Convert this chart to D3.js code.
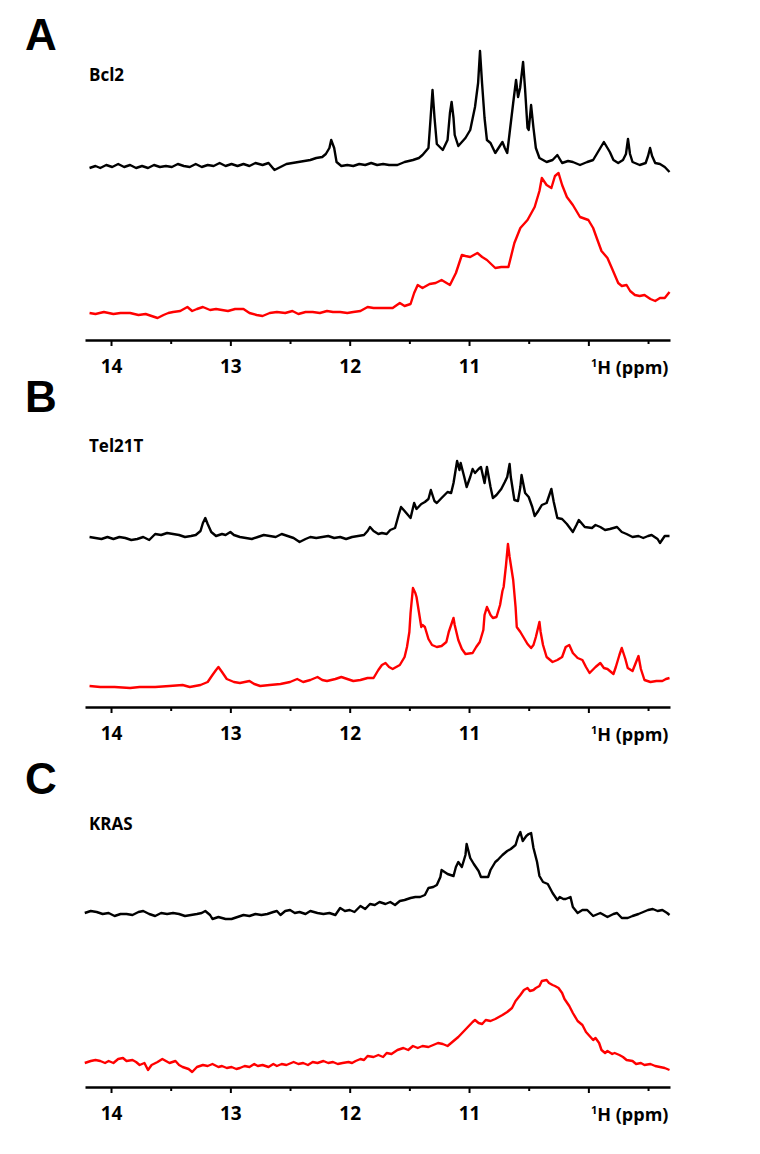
<!DOCTYPE html>
<html lang="en">
<head>
<meta charset="UTF-8">
<title>Imino 1H NMR spectra</title>
<script src="https://d3js.org/d3.v7.min.js"></script>
<style>
    body { margin: 0; background: #fff; }
    svg { display: block; }
    .axis path, .axis line { stroke: #000; }
    .axis text { font-family: "Open Sans", sans-serif; font-weight: bold; font-size: 19px; fill: #000; }
</style>
</head>
<body>
<svg id="chart" width="760" height="1154"></svg>
<script>
// panel labels
const panelLetters = ["A", "B", "C"];
const sampleNames = ["Bcl2", "Tel21T", "KRAS"];

// x axis (ppm, reversed)
const ppmRange = [14.218, 9.316];
const majorTicks = [14, 13, 12, 11, 10];
const labelledTicks = [14, 13, 12, 11];
const minorTicks = [13.5, 12.5, 11.5, 10.5, 9.5];

// spectra: [ppm, intensity (a.u.)]
const bcl2Upper = [[14.18,0],[14.13,2],[14.09,0],[14.04,3],[13.99,1],[13.94,4],[13.89,1],[13.84,3],[13.79,0],[13.74,2],
  [13.69,0],[13.64,3],[13.59,1],[13.54,2],[13.49,1],[13.44,4],[13.39,2],[13.34,1],[13.29,4],[13.24,1],[13.19,3],[13.14,2],
  [13.09,5],[13.04,2],[12.99,4],[12.94,2],[12.89,4],[12.84,2],[12.79,5],[12.73,3],[12.68,5],[12.63,-2],[12.58,1],[12.53,4],
  [12.48,5],[12.43,6],[12.38,7],[12.33,8],[12.28,10],[12.23,11],[12.20,14],[12.17,20],[12.155,28],[12.13,20],[12.11,6],
  [12.07,2],[12.02,3],[11.97,2],[11.92,4],[11.87,3],[11.82,5],[11.77,3],[11.72,4],[11.67,3],[11.60,3],[11.54,6],[11.47,8],
  [11.42,10],[11.39,13],[11.34,20],[11.322,50],[11.306,78],[11.289,50],[11.27,24],[11.22,18],[11.18,28],[11.16,55],
  [11.146,66],[11.13,50],[11.12,33],[11.09,22],[11.03,30],[10.99,38],[10.95,61],[10.924,85],[10.908,117],[10.891,85],
  [10.87,50],[10.85,28],[10.82,25],[10.78,15],[10.72,26],[10.70,20],[10.68,15],[10.66,35],[10.63,65],[10.606,88],[10.589,71],
  [10.572,80],[10.547,106],[10.531,80],[10.51,40],[10.50,38],[10.48,63],[10.46,40],[10.44,20],[10.41,10],[10.35,6],[10.30,8],
  [10.26,13],[10.22,5],[10.17,7],[10.13,6],[10.07,3],[10.01,6],[9.96,8],[9.92,16],[9.89,22],[9.87,26],[9.84,20],
  [9.82,16],[9.79,8],[9.75,5],[9.71,8],[9.685,14],[9.668,29],[9.651,14],[9.63,6],[9.57,3],[9.52,5],[9.50,12],
  [9.483,20],[9.466,12],[9.44,5],[9.40,4],[9.36,1],[9.32,-4]];

const bcl2Lower = [[14.18,0],[14.13,-1],[14.06,1],[13.98,-1],[13.92,0],[13.84,0],[13.77,-2],[13.71,-1],[13.66,-3],[13.61,-5],
  [13.56,-2],[13.52,0],[13.48,1],[13.42,2],[13.36,6],[13.32,2],[13.28,4],[13.23,6],[13.17,3],[13.12,4],[13.07,3],[13.02,2],
  [12.96,4],[12.89,4],[12.84,0],[12.78,-2],[12.73,-3],[12.67,0],[12.61,1],[12.54,0],[12.48,2],[12.43,-1],[12.37,1],[12.31,1],
  [12.25,0],[12.19,2],[12.14,1],[12.08,1],[12.02,0],[11.97,1],[11.91,2],[11.85,6],[11.80,5],[11.75,5],[11.69,5],[11.64,5],
  [11.58,10],[11.54,7],[11.49,9],[11.46,20],[11.43,28],[11.39,25],[11.33,29],[11.28,30],[11.23,33],[11.16,28],[11.11,40],
  [11.06,58],[11.03,57],[10.99,56],[10.93,60],[10.89,56],[10.85,53],[10.78,45],[10.73,46],[10.67,46],[10.62,70],[10.57,85],
  [10.51,93],[10.45,106],[10.41,122],[10.39,135],[10.35,128],[10.31,125],[10.28,137],[10.25,140],[10.22,128],[10.18,116],
  [10.13,108],[10.07,96],[10.00,93],[9.96,85],[9.93,75],[9.89,62],[9.84,55],[9.80,44],[9.75,30],[9.72,27],[9.68,28],
  [9.65,22],[9.61,18],[9.57,17],[9.53,18],[9.48,14],[9.44,12],[9.40,15],[9.36,15],[9.32,21]];

const tel21tUpper = [[14.18,0],[14.13,-1],[14.08,-2],[14.03,0],[13.98,-2],[13.93,0],[13.88,-1],[13.83,-3],[13.78,-2],[13.73,0],
  [13.68,-3],[13.63,3],[13.58,2],[13.53,4],[13.48,3],[13.43,2],[13.38,0],[13.33,1],[13.29,2],[13.25,6],[13.23,14],[13.21,19],
  [13.19,13],[13.16,5],[13.12,1],[13.07,3],[13.04,2],[13.00,5],[12.97,2],[12.92,0],[12.87,-1],[12.82,-2],[12.77,0],[12.72,2],
  [12.67,1],[12.62,0],[12.57,3],[12.52,1],[12.47,-1],[12.42,-5],[12.37,-2],[12.33,0],[12.28,-1],[12.23,0],[12.18,1],[12.13,-1],
  [12.08,0],[12.03,-2],[11.98,0],[11.93,1],[11.88,2],[11.85,6],[11.83,10],[11.80,6],[11.76,3],[11.73,4],[11.69,3],[11.66,7],
  [11.62,9],[11.59,22],[11.57,30],[11.54,26],[11.49,19],[11.46,34],[11.44,28],[11.40,33],[11.37,35],[11.34,38],[11.32,47],
  [11.29,36],[11.27,34],[11.23,39],[11.18,45],[11.15,44],[11.13,54],[11.10,76],[11.08,67],[11.07,74],[11.04,60],[11.02,50],
  [10.99,60],[10.97,68],[10.95,64],[10.92,68],[10.90,70],[10.87,54],[10.85,70],[10.82,50],[10.80,39],[10.77,42],[10.73,48],
  [10.70,55],[10.68,60],[10.66,73],[10.65,60],[10.62,37],[10.59,36],[10.57,50],[10.56,62],[10.53,44],[10.50,40],[10.47,30],
  [10.45,21],[10.42,26],[10.39,32],[10.35,34],[10.31,48],[10.29,35],[10.26,19],[10.22,18],[10.18,13],[10.13,5],[10.10,12],
  [10.08,17],[10.03,10],[9.97,9],[9.94,12],[9.90,10],[9.86,7],[9.82,8],[9.79,9],[9.76,10],[9.72,5],[9.68,3],
  [9.63,0],[9.58,1],[9.54,-1],[9.50,1],[9.47,2],[9.42,-2],[9.40,-6],[9.36,1],[9.32,1]];

const tel21tLower = [[14.18,1],[14.09,0],[13.97,0],[13.84,-1],[13.76,0],[13.63,0],[13.51,1],[13.40,2],[13.34,0],[13.25,2],
  [13.19,5],[13.15,12],[13.12,17],[13.10,20],[13.07,15],[13.03,8],[12.97,5],[12.92,4],[12.88,5],[12.84,6],[12.80,3],[12.75,1],
  [12.67,2],[12.58,3],[12.50,5],[12.44,8],[12.39,5],[12.33,7],[12.27,10],[12.23,7],[12.19,6],[12.12,8],[12.07,10],[12.02,8],
  [11.97,6],[11.91,7],[11.85,9],[11.80,9],[11.76,17],[11.73,22],[11.70,24],[11.67,20],[11.64,18],[11.58,22],[11.54,30],
  [11.52,40],[11.50,55],[11.49,74],[11.47,99],[11.45,94],[11.44,90],[11.42,75],[11.40,60],[11.39,62],[11.37,60],[11.34,48],
  [11.31,42],[11.27,40],[11.23,41],[11.19,45],[11.17,55],[11.15,62],[11.13,69],[11.12,62],[11.09,47],[11.06,38],[11.03,33],
  [10.97,34],[10.94,40],[10.91,45],[10.88,57],[10.87,72],[10.85,80],[10.82,72],[10.80,69],[10.77,70],[10.74,82],[10.72,96],
  [10.71,100],[10.69,122],[10.674,143],[10.66,130],[10.63,107],[10.61,80],[10.60,60],[10.57,55],[10.55,51],[10.51,43],
  [10.48,39],[10.46,42],[10.44,50],[10.41,65],[10.40,55],[10.38,42],[10.35,30],[10.30,25],[10.26,27],[10.22,30],[10.19,40],
  [10.16,42],[10.13,34],[10.09,29],[10.05,27],[10.02,20],[9.99,14],[9.94,20],[9.90,24],[9.87,19],[9.84,18],[9.79,13],
  [9.77,20],[9.74,32],[9.72,39],[9.69,28],[9.67,19],[9.63,16],[9.61,22],[9.58,31],[9.56,18],[9.53,7],[9.48,5],
  [9.43,6],[9.38,6],[9.35,8],[9.32,9]];

const krasUpper = [[14.22,0],[14.17,2],[14.12,1],[14.07,-1],[14.02,0],[13.97,-3],[13.92,-1],[13.87,-1],[13.82,-2],[13.77,1],
  [13.73,2],[13.68,-1],[13.63,-3],[13.58,0],[13.53,-1],[13.48,0],[13.43,-1],[13.38,-3],[13.33,-2],[13.28,-1],[13.24,0],
  [13.21,2],[13.17,-2],[13.15,-6],[13.10,-4],[13.04,-6],[12.99,-6],[12.94,-4],[12.89,-2],[12.84,-3],[12.79,-1],[12.74,-2],
  [12.69,-1],[12.64,1],[12.61,2],[12.58,-2],[12.54,2],[12.50,3],[12.46,0],[12.42,1],[12.37,-1],[12.33,2],[12.27,0],[12.22,-1],
  [12.17,0],[12.12,-2],[12.08,5],[12.04,2],[12.00,3],[11.96,1],[11.91,7],[11.87,4],[11.83,9],[11.79,8],[11.75,11],[11.70,9],
  [11.66,11],[11.62,8],[11.58,12],[11.54,13],[11.49,15],[11.45,16],[11.41,16],[11.37,18],[11.34,25],[11.30,26],[11.27,28],
  [11.24,36],[11.23,43],[11.18,39],[11.13,37],[11.11,46],[11.09,51],[11.06,46],[11.03,58],[11.02,69],[10.99,55],[10.96,49],
  [10.92,42],[10.90,36],[10.84,36],[10.82,43],[10.78,51],[10.76,53],[10.72,58],[10.68,62],[10.65,64],[10.61,68],[10.59,76],
  [10.57,81],[10.55,72],[10.52,77],[10.50,79],[10.48,80],[10.46,65],[10.43,51],[10.41,37],[10.38,31],[10.34,29],[10.30,20],
  [10.26,13],[10.24,16],[10.21,14],[10.19,14],[10.15,16],[10.13,6],[10.09,0],[10.05,3],[10.01,3],[9.96,-3],[9.90,0],
  [9.84,-4],[9.79,-1],[9.76,0],[9.72,-5],[9.67,-5],[9.63,-3],[9.58,-1],[9.54,1],[9.50,3],[9.46,4],[9.42,2],
  [9.38,3],[9.34,0],[9.32,-2]];

const krasLower = [[14.22,0],[14.17,2],[14.13,3],[14.09,2],[14.05,0],[14.02,2],[13.98,0],[13.94,4],[13.90,5],[13.87,2],
  [13.82,3],[13.79,1],[13.76,-2],[13.72,0],[13.69,-7],[13.66,-2],[13.61,1],[13.57,4],[13.54,2],[13.51,0],[13.46,2],[13.43,-2],
  [13.40,-4],[13.35,-6],[13.32,-9],[13.28,-4],[13.23,-2],[13.19,-3],[13.15,-1],[13.10,-4],[13.07,-3],[13.03,-5],[12.99,-4],
  [12.95,-6],[12.92,-5],[12.88,-3],[12.84,-4],[12.80,-1],[12.77,-3],[12.73,-2],[12.68,-4],[12.64,-1],[12.61,-3],[12.57,-1],
  [12.53,-2],[12.47,1],[12.43,-1],[12.39,0],[12.35,-2],[12.31,1],[12.27,0],[12.22,2],[12.18,0],[12.14,1],[12.10,-1],[12.06,0],
  [12.01,1],[11.98,0],[11.95,2],[11.91,4],[11.88,3],[11.85,7],[11.80,6],[11.76,8],[11.72,6],[11.69,10],[11.65,9],[11.60,13],
  [11.55,15],[11.51,13],[11.47,17],[11.43,15],[11.39,17],[11.34,16],[11.30,18],[11.26,20],[11.22,19],[11.18,17],[11.13,22],
  [11.09,26],[11.05,31],[11.01,36],[10.97,41],[10.95,43],[10.92,40],[10.89,39],[10.86,43],[10.82,42],[10.78,44],[10.75,46],
  [10.72,48],[10.68,51],[10.64,55],[10.61,62],[10.57,68],[10.54,73],[10.51,75],[10.49,72],[10.46,73],[10.44,75],[10.41,77],
  [10.39,82],[10.35,83],[10.33,80],[10.30,78],[10.28,77],[10.25,75],[10.22,70],[10.20,64],[10.16,57],[10.13,50],[10.09,42],
  [10.05,38],[10.02,31],[9.99,27],[9.96,23],[9.94,25],[9.91,20],[9.89,13],[9.86,10],[9.84,12],[9.80,9],[9.78,10],
  [9.74,8],[9.71,6],[9.68,3],[9.63,2],[9.60,-1],[9.56,0],[9.53,-2],[9.48,-1],[9.44,-3],[9.40,-4],[9.36,-5],[9.32,-7]];

const spectraUpper = [bcl2Upper, tel21tUpper, krasUpper];
const spectraLower = [bcl2Lower, tel21tLower, krasLower];

// layout
const svg = d3.select("#chart");
const panels = [
    { letterY: 50, nameY: 81, upperBase: 168, lowerBase: 313, axisY: 340 },
    { letterY: 412, nameY: 452, upperBase: 537, lowerBase: 687, axisY: 707 },
    { letterY: 794, nameY: 830, upperBase: 913, lowerBase: 1063, axisY: 1087 }
];

const x = d3.scaleLinear().domain(ppmRange).range([85, 670]);

const drawTrace = (data, base, colour) => {
    const y = d3.scaleLinear().domain([0, 100]).range([base, base - 100]);
    const line = d3.line().x(d => x(d[0])).y(d => y(d[1]));
    svg.append("path")
        .datum(data)
        .attr("d", line)
        .attr("fill", "none")
        .attr("stroke", colour)
        .attr("stroke-width", 2.4)
        .attr("stroke-linejoin", "round");
};

panels.forEach((p, i) => {
    svg.append("text")
        .attr("x", 25)
        .attr("y", p.letterY)
        .attr("font-family", "Liberation Sans, Arial, sans-serif")
        .attr("font-weight", "bold")
        .attr("font-size", 44)
        .text(panelLetters[i]);

    svg.append("text")
        .attr("x", 89)
        .attr("y", p.nameY)
        .attr("font-family", "Open Sans, sans-serif")
        .attr("font-weight", "bold")
        .attr("font-size", 17)
        .text(sampleNames[i]);

    drawTrace(spectraUpper[i], p.upperBase, "#000");
    drawTrace(spectraLower[i], p.lowerBase, "#ff0000");

    // minor ticks
    svg.append("g")
        .attr("class", "axis")
        .attr("transform", `translate(0,${p.axisY})`)
        .call(d3.axisBottom(x).tickValues(minorTicks).tickSize(4).tickSizeOuter(0).tickFormat(""))
        .call(g => g.select(".domain").remove())
        .selectAll("line").attr("stroke-width", 2);

    // major ticks and labels
    const ax = svg.append("g")
        .attr("class", "axis")
        .attr("transform", `translate(0,${p.axisY})`)
        .call(d3.axisBottom(x).tickValues(majorTicks).tickSize(6).tickSizeOuter(0)
            .tickFormat(d => labelledTicks.includes(d) ? d3.format("d")(d) : ""));
    ax.select(".domain").attr("stroke-width", 2.5);
    ax.selectAll(".tick line").attr("stroke-width", 2);
    ax.selectAll(".tick text").attr("y", 20);

    const lab = svg.append("text")
        .attr("x", 591)
        .attr("y", p.axisY + 34)
        .attr("font-family", "Open Sans, sans-serif")
        .attr("font-weight", "bold")
        .attr("font-size", 18);
    lab.append("tspan").attr("font-size", 11).attr("dy", -7).text("1");
    lab.append("tspan").attr("dy", 7).text("H (ppm)");
});
</script>
</body>
</html>
